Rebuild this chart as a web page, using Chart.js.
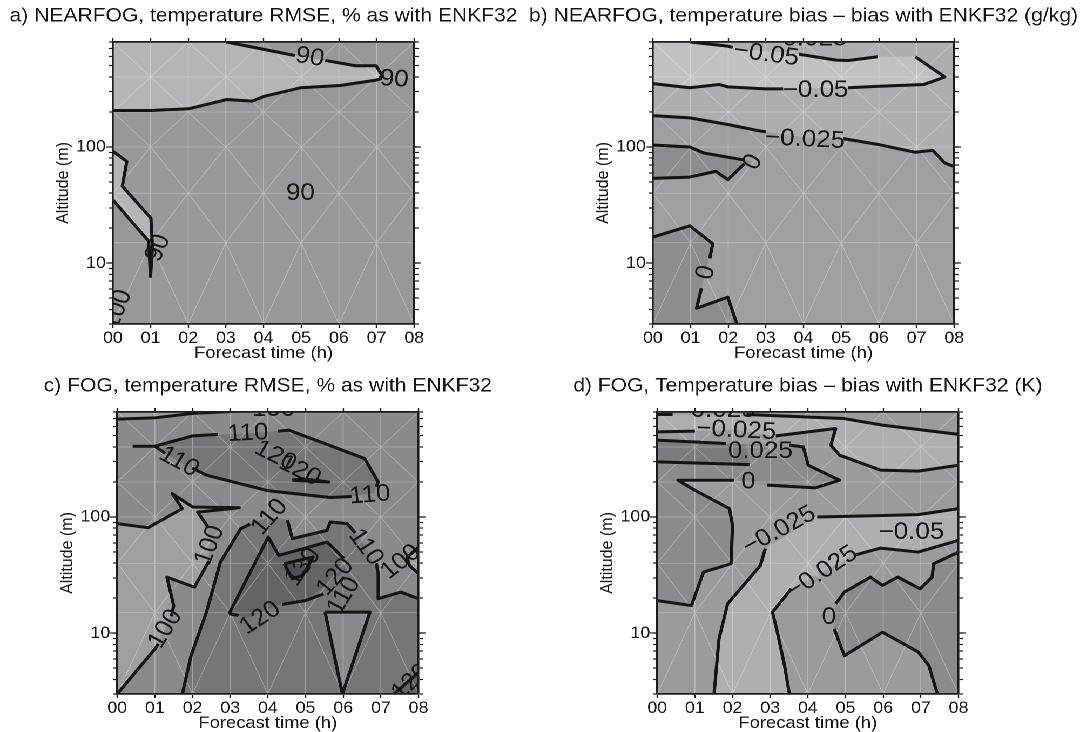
<!DOCTYPE html>
<html>
<head>
<meta charset="utf-8">
<script src="https://cdn.jsdelivr.net/npm/chart.js@4/dist/chart.umd.min.js"></script>
<style>
  html, body { margin: 0; padding: 0; background: #fff; overflow: hidden; }
  #fig { position: absolute; left: 0; top: 0; width: 1001px; height: 732px;
         transform: scaleX(1.08); transform-origin: 0 0; }
  .panel { position: absolute; width: 530px; height: 372px; }
</style>
</head>
<body>
<div id="fig">
  <div class="panel" style="left:-21.5px; top:-3px;"><canvas id="chartA" width="530" height="372"></canvas></div>
  <div class="panel" style="left:479px; top:-3px;"><canvas id="chartB" width="530" height="372"></canvas></div>
  <div class="panel" style="left:-17px; top:367px;"><canvas id="chartC" width="530" height="372"></canvas></div>
  <div class="panel" style="left:483px; top:367px;"><canvas id="chartD" width="530" height="372"></canvas></div>
</div>
<script>
// ---------- axes ----------
const hourTicks = [0, 1, 2, 3, 4, 5, 6, 7, 8];
const altTicks = [3, 4, 5, 6, 7, 8, 9, 10, 20, 30, 40, 50, 60, 70, 80, 90,
                  100, 200, 300, 400, 500, 600, 700, 800];
const altLabelled = [10, 100];
const hourRange = [0, 8];
const altRange = [3, 800];

// ---------- triangulation mesh (node altitudes at every forecast hour) ----------
const meshAlt = [3, 15, 40, 100, 200, 400, 800];

// ---------- a) NEARFOG, temperature RMSE (%) ----------
const aBelow90Top = [[0,800],[3.02,800],[4.89,606],[5.58,559],[6.44,500],[6.99,500],[7.13,420],[7.1,385],
  [6.99,376],[6.03,338],[4.98,323],[4.02,273],[3.70,248],[3.02,256],[2.01,213],[1.01,206],[0,206]];
const aBelow90Left = [[0,92],[0.37,75],[0.25,46],[1.01,24.4],[1.05,14],[1.0,7.7],[0.95,15.5],[0,35]];
const aLine90TopA = [[3.02,800],[4.83,612]];
const aLine90TopB = [[5.64,555],[6.44,500],[6.99,500],[7.13,420],[7.1,385],[6.99,376],[6.03,338],[4.98,323],
  [4.02,273],[3.70,248],[3.02,256],[2.01,213],[1.01,206],[0,206]];
const aLine90Left = [[0,92],[0.37,75],[0.25,46],[1.01,24.4],[1.05,14],[1.0,7.7],[0.95,15.5],[0,35]];
const aLabels = [["90",5.23,590,10],["90",7.47,382,4],["90",4.98,40,0],["90",1.2,13.5,-68],["100",0.12,4,-70]];

// ---------- b) NEARFOG, temperature bias difference (g/kg) ----------
const bAboveM025 = [[0,186],[0.98,178],[1.99,156],[2.76,139],[3.22,132],[4.04,120],[4.96,119],[6.01,104.7],
  [6.97,90],[7.43,93.6],[7.75,72.8],[8,68],[8,800],[0,800]];
const bBelowM05 = [[0,800],[0.98,800],[1.99,737],[2.6,690],[3.77,636],[4.87,559],[5.19,555],[5.97,597],
  [6.97,597],[7.75,400],[7.2,345],[6.01,333],[5.1,323],[4.32,320],[3.59,316],[2.99,316],[1.99,329],
  [1.76,345],[0.98,323],[0,351]];
const bAbove0Upper = [[0,104],[0.98,100],[1.35,88.8],[2.49,76.8],[2.65,75],[2.49,71.8],[1.99,52.3],
  [1.67,61.7],[0.98,55.1],[0,53.7]];
const bAbove0Lower = [[0,16.8],[0.98,21],[1.59,14.7],[1.16,4.1],[1.99,5.1],[2.23,3],[0,3]];
const bLines = [
  [[0.98,800],[1.99,737],[2.12,718]],
  [[3.88,628],[4.87,559],[5.19,555],[5.97,597]],
  [[6.97,597],[7.75,400],[7.2,345],[6.01,333],[5.18,323]],
  [[3.46,316],[2.99,316],[1.99,329],[1.76,345],[0.98,323],[0,351]],
  [[0,186],[0.98,178],[1.99,156],[2.76,139],[3.0,135]],
  [[5.05,118],[6.01,104.7],[6.97,90],[7.43,93.6],[7.75,72.8],[8,68]],
  [[0,104],[0.98,100],[1.35,88.8],[2.43,77.2]],
  [[2.43,71.6],[1.99,52.3],[1.67,61.7],[0.98,55.1],[0,53.7]],
  [[0,16.8],[0.98,21],[1.59,14.7],[1.51,11]],
  [[1.29,6.1],[1.16,4.1],[1.99,5.1],[2.23,3]]
];
const bLabels = [["\u22120.025",4.1,850,0],["\u22120.05",3.01,625,8],["\u22120.05",4.32,308,0],
  ["\u22120.025",4.04,116,3],["0",2.66,74,-60],["0",1.41,8.3,-75]];

// ---------- c) FOG, temperature RMSE (%) ----------
const cBelow100Top = [[0,695],[1.0,713],[2.01,778],[3.3,815],[0,815]];
const cBelow100Left = [[0,87.6],[0.82,80.9],[1.73,118],[1.46,159],[2.0,122],[3.24,120],[2.14,110],[2.46,69.5],
  [2.42,40.9],[2.05,24.9],[1.32,30.4],[1.5,17.3],[1.28,10.9],[1.0,7.3],[0,3]];
const cAbove110Upper = [[1.0,406],[2.01,499],[3.47,523],[4.56,559],[6.57,318],[6.93,200],[6.8,160],[6.11,149],
  [5.66,147],[4.01,168],[2.37,229],[1.64,298]];
const cAbove120Upper = [[4.65,207],[5.61,200],[4.9,214]];
const cAbove110Lower = [[1.73,3],[1.96,6.4],[2.37,15.2],[2.74,40.9],[3.28,79.3],[4.0,100],[4.5,95],[4.65,65.1],
  [5.57,76.7],[5.66,90.5],[6.11,87.6],[6.57,57],[6.93,32.5],[6.93,19.8],[7.53,22.6],[8,19.8],[8,3]];
const cAbove120 = [[2.97,14.7],[4.01,67.3],[4.29,46.7],[5.57,60.9],[6.11,36],[5.0,19.1],[4.2,17.3],[3.47,13.5]];
const cAbove130 = [[4.43,39.6],[5.2,45.2],[4.93,31.4],[4.65,29.4]];
const cBelow110Tri = [[5.52,15.2],[6.71,15.2],[5.98,3.0]];
const cBelow100Right = [[8,55],[7.7,45],[7.76,38.3],[8,32.5]];
const cAbove120Corner = [[7.35,3],[8,4.6],[8,3]];
const cLines = [
  [[0,695],[1.0,713],[2.01,778],[3.3,815]],
  [[0.41,406],[1.0,406],[2.01,499],[2.68,513]],
  [[4.27,547],[4.56,559],[6.57,318],[6.93,200],[6.88,182]],
  [[6.22,150],[5.66,147],[4.01,168],[2.37,229],[1.99,264]],
  [[1.27,352],[1.0,406]],
  [[4.65,207],[5.61,200],[4.9,214],[4.65,207]],
  [[0,87.6],[0.82,80.9],[1.73,118],[1.46,159],[2.0,122],[3.24,120],[2.14,110],[2.4,83]],
  [[2.45,41],[2.42,40.9],[2.05,24.9],[1.32,30.4],[1.5,17.3],[1.44,14]],
  [[1.09,8.1],[1.0,7.3],[0,3]],
  [[1.73,3],[1.96,6.4],[2.37,15.2],[2.74,40.9],[3.28,79.3],[3.53,87]],
  [[4.52,94],[4.65,65.1],[5.57,76.7],[5.66,90.5],[6.11,87.6],[6.32,73]],
  [[6.88,40],[6.93,32.5],[6.93,19.8],[7.53,22.6],[8,19.8]],
  [[2.97,14.7],[4.01,67.3],[4.29,46.7],[5.57,60.9],[6.02,44]],
  [[5.48,21.8],[5.0,19.1],[4.38,17.7]],
  [[3.22,14.2],[2.97,14.7]],
  [[4.43,39.6],[5.2,45.2],[4.93,31.4],[4.65,29.4],[4.43,39.6]],
  [[5.52,15.2],[6.71,15.2],[5.98,3.0],[5.52,15.2]],
  [[8,55],[7.7,45],[7.76,38.3],[8,32.5]],
  [[7.35,3],[8,4.6]]
];
const cLabels = [["100",4.15,840,0],["110",3.47,523,-3],["110",6.71,154,-5],["110",1.64,298,30],
  ["120",4.2,335,28],["120",4.85,250,28],["100",2.46,57,-70],["100",1.28,10.9,-60],["110",4.05,100,-50],
  ["110",6.6,55,55],["120",5.79,30.4,-50],["120",3.8,13.5,-35],["130",4.93,37,-55],["110",6.02,21,-60],
  ["100",7.53,41,-40],["120",7.8,3.8,-45]];

// ---------- d) FOG, temperature bias difference (K) ----------
const dBelowM025Top = [[0,762],[2.37,762],[4.93,704],[5.98,617],[8,513],[8,279],[6.93,248],[5.93,253],
  [4.84,340],[4.61,415],[4.74,577],[3.1,499],[2.1,560],[1.0,548],[0,540]];
const dAbove0 = [[0,19.1],[0.91,17.3],[1.23,33.6],[1.96,39.6],[2.0,84.7],[1.92,118],[1.0,170],[0.55,207],
  [2.1,207],[2.92,188],[4.2,178],[4.84,207],[4.01,279],[3.88,401],[3.47,415],[1.82,429],[0,458]];
const dAbove025 = [[0,458],[1.82,429],[2.35,420],[2.46,282],[0,298]];
const dBelowM025Mid = [[1.51,3],[1.64,8.9],[1.87,17.9],[2.74,38.3],[2.87,53.4],[4.2,100],[6.02,103],[6.93,104.7],
  [8,118],[8,63],[6.93,49.9],[5.93,54],[5.2,46.7],[3.56,24.1],[3.06,15.2],[3.19,10.2],[3.38,5.3],[3.51,3]];
const dAbove0Lower = [[4.74,17.9],[4.97,22.6],[5.66,30.4],[5.98,25.8],[6.39,30.4],[6.98,24.1],[7.3,30.4],
  [7.34,39.6],[8,49.9],[8,3],[7.44,3],[7.21,5.3],[6.93,6.9],[5.98,10.2],[4.97,6.4],[4.7,10.9]];
const dLines = [
  [[0,762],[0.41,762]],
  [[2.37,762],[4.93,704],[5.98,617],[8,513]],
  [[0,540],[1.0,548]],
  [[3.15,499],[4.74,577],[4.61,415],[4.84,340],[5.93,253],[6.93,248],[8,279]],
  [[0,458],[1.82,429]],
  [[3.5,415],[3.88,401],[4.01,279],[4.84,207],[4.2,178],[2.92,188]],
  [[2.05,207],[0.55,207],[1.0,170],[1.92,118],[2.0,84.7],[1.96,39.6],[1.23,33.6],[0.91,17.3],[0,19.1]],
  [[0,298],[2.46,282]],
  [[1.51,3],[1.64,8.9],[1.87,17.9],[2.74,38.3],[2.87,53.4]],
  [[4.25,100],[6.02,103],[6.93,104.7],[8,118]],
  [[3.51,3],[3.38,5.3],[3.19,10.2],[3.06,15.2],[3.56,24.1]],
  [[5.25,47],[5.93,54],[6.93,49.9],[8,63]],
  [[4.7,10.9],[4.97,6.4],[5.98,10.2],[6.93,6.9],[7.21,5.3],[7.44,3]],
  [[4.74,17.9],[4.97,22.6],[5.66,30.4],[5.98,25.8],[6.39,30.4],[6.98,24.1],[7.3,30.4],[7.34,39.6],[8,49.9]]
];
const dLabels = [["\u22120.025",1.55,830,0],["\u22120.025",2.1,555,3],["0.025",2.74,368,0],["0",2.42,200,0],
  ["\u22120.025",3.24,76.7,-30],["\u22120.05",6.75,74,0],["\u22120.025",4.38,33.5,-35],["0",4.56,13.7,0]];

// ---------- drawing ----------
const FONT = '"Liberation Sans", Arial, Helvetica, sans-serif';
const INK = '#151515';

const toXY = pts => pts.map(p => ({ x: p[0], y: p[1] }));

function meshData() {
  const segs = [];
  for (const h of hourTicks) segs.push([[h, altRange[0]], [h, altRange[1]]]);
  for (const a of meshAlt) segs.push([[hourRange[0], a], [hourRange[1], a]]);
  for (let i = 0; i < hourTicks.length - 1; i++) {
    for (let j = 0; j < meshAlt.length - 1; j++) {
      const h0 = hourTicks[i], h1 = hourTicks[i + 1], a0 = meshAlt[j], a1 = meshAlt[j + 1];
      segs.push((i + j) % 2 === 0 ? [[h0, a0], [h1, a1]] : [[h0, a1], [h1, a0]]);
    }
  }
  const out = [];
  segs.forEach(s => { out.push({ x: s[0][0], y: s[0][1] }, { x: s[1][0], y: s[1][1] }, { x: null, y: null }); });
  return out;
}

const contourLabels = {
  id: 'contourLabels',
  afterDatasetsDraw(chart, args, opts) {
    const { ctx, chartArea: ca, scales: { x, y } } = chart;
    ctx.save();
    ctx.beginPath();
    ctx.rect(ca.left, ca.top, ca.width, ca.height);
    ctx.clip();
    ctx.font = '24px ' + FONT;
    ctx.fillStyle = INK;
    ctx.textAlign = 'center';
    ctx.textBaseline = 'middle';
    for (const [text, h, alt, angle] of opts.items) {
      ctx.save();
      ctx.translate(x.getPixelForValue(h), y.getPixelForValue(alt));
      ctx.rotate(angle * Math.PI / 180);
      ctx.fillText(text, 0, 0);
      ctx.restore();
    }
    ctx.restore();
  }
};

function scalesConfig() {
  const tickFont = { family: FONT, size: 16.5 };
  const border = { display: true, color: '#1b1b1b', width: 1.8, z: 1 };
  const outTicks = len => ({ drawOnChartArea: false, drawTicks: true, tickLength: len, tickColor: '#1b1b1b', tickWidth: 1.2 });
  const setTicks = list => s => { s.ticks = list.map(v => ({ value: v })); };
  const logBase = { type: 'logarithmic', min: altRange[0], max: altRange[1], bounds: 'data' };
  return {
    x: { type: 'linear', position: 'bottom', min: hourRange[0], max: hourRange[1], bounds: 'data',
         afterBuildTicks: setTicks(hourTicks),
         ticks: { font: tickFont, color: INK, padding: 0.5, maxRotation: 0, autoSkip: false,
                  callback: v => String(v).padStart(2, '0') },
         grid: outTicks(4), border,
         title: { display: true, text: 'Forecast time (h)', font: { family: FONT, size: 17 }, color: INK,
                  padding: { top: 0, bottom: 5.5 } },
         afterFit: s => { s.height = 45; } },
    x2: { type: 'linear', position: 'top', min: hourRange[0], max: hourRange[1], bounds: 'data',
          afterBuildTicks: setTicks(hourTicks), ticks: { display: false },
          grid: outTicks(4), border, afterFit: s => { s.height = 16.25; } },
    yMaj: { ...logBase, position: 'left', weight: 0, afterBuildTicks: setTicks(altLabelled),
            ticks: { display: false }, grid: outTicks(6.5), border: { display: false },
            afterFit: s => { s.width = 0; } },
    y: { ...logBase, position: 'left', weight: 1, afterBuildTicks: setTicks(altTicks),
         ticks: { font: tickFont, color: INK, padding: 2.5, autoSkip: false,
                  callback: v => altLabelled.includes(v) ? String(v) : '' },
         grid: outTicks(4), border,
         title: { display: true, text: 'Altitude (m)', font: { family: FONT, size: 16 }, color: INK,
                  padding: { top: 70, bottom: 0 } },
         afterFit: s => { s.width = 125.5; } },
    yRMaj: { ...logBase, position: 'right', weight: 0, afterBuildTicks: setTicks(altLabelled),
             ticks: { display: false }, grid: outTicks(6.5), border: { display: false },
             afterFit: s => { s.width = 0; } },
    yR: { ...logBase, position: 'right', weight: 1, afterBuildTicks: setTicks(altTicks),
          ticks: { display: false }, grid: outTicks(4), border,
          afterFit: s => { s.width = 125.5; } }
  };
}

function drawPanel(canvasId, title, baseColor, regions, lines, labels) {
  const frame = [[hourRange[0], altRange[0]], [hourRange[1], altRange[0]], [hourRange[1], altRange[1]], [hourRange[0], altRange[1]]];
  const ds = [];
  const fillSet = (pts, color) => ({ data: toXY(pts), showLine: true, fill: 'shape', backgroundColor: color,
    borderWidth: 0, pointRadius: 0, pointHoverRadius: 0, tension: 0, clip: 0 });
  ds.push(fillSet(frame, baseColor));
  regions.forEach(([pts, color]) => ds.push(fillSet(pts, color)));
  ds.push({ data: meshData(), showLine: true, fill: false, spanGaps: false, borderColor: 'rgba(255,255,255,0.33)',
    borderWidth: 0.8, pointRadius: 0, pointHoverRadius: 0, tension: 0, clip: 0 });
  lines.forEach(pts => ds.push({ data: toXY(pts), showLine: true, fill: false, borderColor: '#141414',
    borderWidth: 3, borderJoinStyle: 'round', borderCapStyle: 'butt', pointRadius: 0, pointHoverRadius: 0,
    tension: 0, clip: 0 }));
  ds.forEach((d, i) => { d.order = ds.length - i; });

  new Chart(document.getElementById(canvasId), {
    type: 'scatter',
    data: { datasets: ds },
    options: {
      responsive: false,
      devicePixelRatio: 2,
      animation: false,
      events: [],
      layout: { padding: 0 },
      scales: scalesConfig(),
      plugins: {
        legend: { display: false },
        tooltip: { enabled: false },
        title: { display: true, text: title, color: INK,
                 font: { family: FONT, size: 19.5, weight: 'normal', lineHeight: 1 },
                 padding: { top: 9.25, bottom: 0 } },
        contourLabels: { items: labels }
      }
    },
    plugins: [contourLabels]
  });
}

drawPanel('chartA', 'a) NEARFOG, temperature RMSE, % as with ENKF32', '#98989a',
  [[aBelow90Top, '#b5b5b7'], [aBelow90Left, '#b5b5b7']],
  [aLine90TopA, aLine90TopB, aLine90Left], aLabels);

drawPanel('chartB', 'b) NEARFOG, temperature bias \u2013 bias with ENKF32 (g/kg)', '#9f9fa1',
  [[bAboveM025, '#aeaeb0'], [bBelowM05, '#c1c1c3'], [bAbove0Upper, '#8d8d8f'], [bAbove0Lower, '#8d8d8f']],
  bLines, bLabels);

drawPanel('chartC', 'c) FOG, temperature RMSE, % as with ENKF32', '#8a8a8c',
  [[cBelow100Top, '#9f9fa1'], [cBelow100Left, '#9f9fa1'], [cAbove110Upper, '#767678'],
   [cAbove120Upper, '#646466'], [cAbove110Lower, '#767678'], [cAbove120, '#646466'], [cAbove130, '#505052'],
   [cBelow110Tri, '#8a8a8c'], [cBelow100Right, '#9f9fa1'], [cAbove120Corner, '#646466']],
  cLines, cLabels);

drawPanel('chartD', 'd) FOG, Temperature bias \u2013 bias with ENKF32 (K)', '#9b9b9d',
  [[dBelowM025Top, '#afafb1'], [dAbove0, '#8b8b8d'], [dAbove025, '#7b7b7d'], [dBelowM025Mid, '#afafb1'],
   [dAbove0Lower, '#8b8b8d']],
  dLines, dLabels);
</script>
</body>
</html>
